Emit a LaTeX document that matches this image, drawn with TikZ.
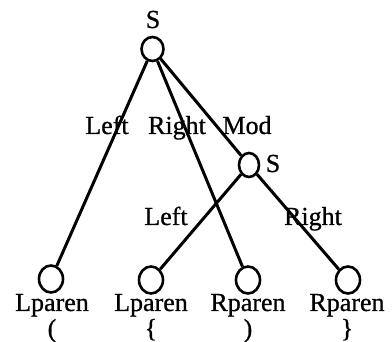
\documentclass[tikz,border=0pt]{standalone}
\usepackage{fontspec}
\setmainfont{Liberation Serif}[FakeBold=0.8]
\usetikzlibrary{positioning,shapes.geometric}
\begin{document}
\begin{tikzpicture}[x=1pt, y=-1pt, line width=3pt,
  every node/.style={inner sep=0pt, font=\fontsize{26}{30}\selectfont},
  vert/.style={draw, ellipse, minimum width=22pt, minimum height=24pt, line width=2.6pt},
  leaf/.style={vert, minimum width=24pt, minimum height=27pt}]
\useasboundingbox (0,0) rectangle (392,342);
% tree nodes
\node[vert] (s) at (152.5,49) {};
\node[vert, minimum width=20pt] (sm) at (249,165) {};
\node[leaf] (lp1) at (51,279) {};
\node[leaf] (lp2) at (151,280) {};
\node[leaf] (rp1) at (248,280) {};
\node[leaf] (rp2) at (348,280) {};
% node names
\node[anchor=base] (sname) at (153,28) {S};
\node[anchor=base] (smname) at (273,172) {S};
\node[anchor=base] (lp1name) at (52,311) {Lparen};
\node[anchor=base] (lp2name) at (151,311) {Lparen};
\node[anchor=base] (rp1name) at (248,311) {Rparen};
\node[anchor=base] (rp2name) at (347,311) {Rparen};
\node[anchor=base] (lp1tok) at (52,337) {(};
\node[anchor=base] (lp2tok) at (151,337) {\{};
\node[anchor=base] (rp1tok) at (248,337) {)};
\node[anchor=base] (rp2tok) at (347,337) {\}};
% edges
\draw (s) -- (lp1);
\draw (s) -- (rp1);
\draw (s) -- (sm);
\draw (sm) -- (lp2);
\draw (sm) -- (rp2);
% edge labels
\node[anchor=base] (eleft) at (107,134) {Left};
\node[anchor=base] (eright) at (177,134) {Right};
\node[anchor=base] (emod) at (247,134) {Mod};
\node[anchor=base] (eleft2) at (166,225) {Left};
\node[anchor=base] (eright2) at (313,225) {Right};
\end{tikzpicture}
\end{document}
